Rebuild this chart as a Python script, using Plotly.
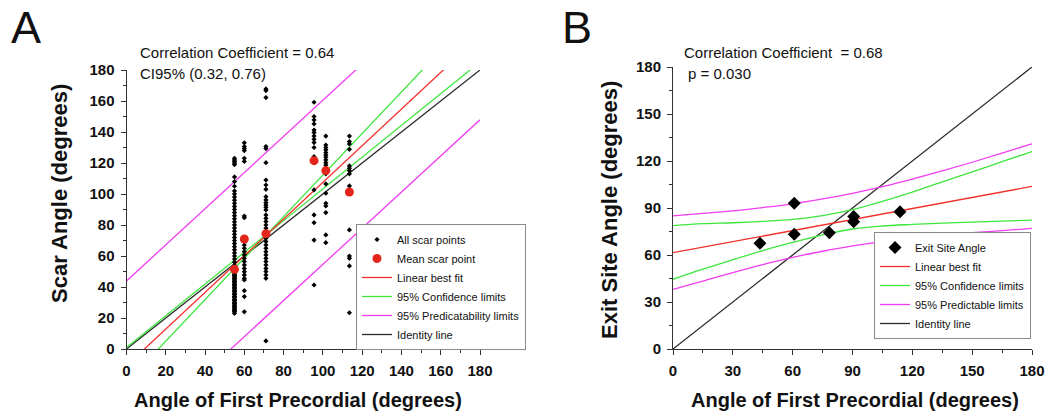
import plotly.graph_objects as go

# ---------------- Panel A data ----------------
scar_cols_x = [55, 60, 71, 95.5, 101.5, 113.5]
scar_y_55 = [123, 122, 121, 120, 119, 111, 108, 105, 102, 100, 98, 96, 94, 92, 90, 88, 86, 84,
             82, 80, 78, 76, 74, 72, 70, 68, 66, 64, 62, 60, 58, 56, 54, 52, 50, 48, 47, 46, 45,
             44, 43, 42, 41, 40, 39, 38, 37, 36, 35, 34, 33, 32, 31, 30, 29, 28, 27, 26, 25, 24, 23,
             53, 51, 49, 47.5, 45.5, 43.5, 41.5, 39.5, 37.5, 35.5, 33.5, 31.5, 29.5, 27.5, 25.5, 24.5]
scar_y_60 = [133, 130.6, 129.3, 128, 123, 121, 85.8, 84.7, 71.4, 69.3, 67.1, 65, 62.8, 60.7, 58.5,
             56.4, 54.2, 52, 49.9, 47.8, 45.6, 44.5, 37.6, 33.8, 24]
scar_y_71 = [167.8, 166.7, 162.2, 130.6, 129.3, 120.2, 109, 105.8, 103, 98.3, 96.2, 94.4, 92.9, 91.4,
             89.7, 86.5, 84.3, 82.2, 80, 77.9, 75.7, 73.6, 71.4, 69.3, 67.1, 65, 62.8, 60.7, 58.5,
             56.4, 54.2, 52, 50, 47.8, 45.6, 5.2]
scar_y_95 = [159.2, 150, 147.8, 145.2, 141.3, 139.6, 137.4, 135.3, 133.2, 130, 124.1, 122, 102.6,
             86.5, 81.5, 70.3, 41.3]
scar_y_101 = [137.4, 131.6, 130, 128.5, 126.7, 125.2, 123.7, 122, 120.2, 118.7, 116.6, 115, 113,
              106.5, 100.5, 94, 92.3, 88, 73.6, 68.6]
scar_y_113 = [137.4, 133.8, 132.3, 128.8, 118.1, 116.6, 115, 113, 105.2, 76.8, 60, 58.5, 53.6, 23.4]

mean_x = [55, 60, 71, 95.5, 101.5, 113.5]
mean_y = [51.4, 71.0, 74.4, 121.5, 115.1, 101.3]

line_a_x = [0, 180]
fit_a_y = [-10.8, 202.1]
conf_a1_y = [-21.7, 219.4]
conf_a2_y = [1.0, 185.2]
pred_a_hi_y = [43.9, 253.8]
pred_a_lo_y = [-62.0, 147.9]
ident_y = [0, 180]

# ---------------- Panel B data ----------------
exit_x = [43.6, 60.8, 60.8, 78.4, 90.6, 90.6, 113.8]
exit_y = [67.5, 93.0, 73.2, 74.2, 84.6, 81.2, 87.6]

fit_b_x = [0, 180]
fit_b_y = [61.5, 103.8]
band_x = [0, 15, 30, 45, 60, 75, 90, 105, 120, 135, 150, 165, 180]
conf_b_up = [78.7, 80.0, 80.6, 81.5, 82.8, 85.2, 89.0, 94.3, 100.2, 106.6, 113.0, 119.6, 126.0]
conf_b_lo = [44.5, 51.0, 57.0, 62.8, 68.0, 72.8, 76.6, 78.5, 79.5, 80.3, 81.0, 81.6, 82.2]
pred_b_up = [85.0, 86.6, 88.2, 90.3, 92.7, 95.8, 99.4, 103.6, 108.4, 113.7, 119.2, 125.0, 131.0]
pred_b_lo = [38.0, 43.4, 48.8, 53.9, 58.5, 62.4, 65.8, 68.6, 70.8, 72.7, 74.2, 75.6, 77.0]

# ---------------- styling ----------------
FONT = "Liberation Sans, Arial, Helvetica, sans-serif"
RED = "#f2302a"
GREEN = "#3de63d"
MAGENTA = "#f03cf0"
BLACK = "#2a2a2a"
LW = 1.3

scar_cols_y = [scar_y_55, scar_y_60, scar_y_71, scar_y_95, scar_y_101, scar_y_113]
scar_x, scar_y = [], []
for cx, ys in zip(scar_cols_x, scar_cols_y):
    scar_x += [cx] * len(ys)
    scar_y += ys

fig = go.Figure()

def aline(y, color, name, group, show, rank, legend="legend", xa="x", ya="y", x=line_a_x, shape="linear"):
    fig.add_trace(go.Scatter(x=x, y=y, mode="lines", line=dict(color=color, width=LW, shape=shape),
                             name=name, legendgroup=group + legend, showlegend=show,
                             legendrank=rank, legend=legend, xaxis=xa, yaxis=ya,
                             hoverinfo="skip"))

# ---- Panel A ----
aline(ident_y, BLACK, "Identity line", "id", True, 6)
aline(pred_a_hi_y, MAGENTA, "95% Predicatability limits", "pred", True, 5)
aline(pred_a_lo_y, MAGENTA, "95% Predicatability limits", "pred", False, 5)
aline(conf_a1_y, GREEN, "95% Confidence limits", "conf", True, 4)
aline(conf_a2_y, GREEN, "95% Confidence limits", "conf", False, 4)
aline(fit_a_y, RED, "Linear best fit", "fit", True, 3)

fig.add_trace(go.Scatter(x=scar_x, y=scar_y, mode="markers", name="All scar points",
                         marker=dict(symbol="diamond", size=4, color="black"),
                         legendrank=1, legend="legend", xaxis="x", yaxis="y"))
fig.add_trace(go.Scatter(x=mean_x, y=mean_y, mode="markers", name="Mean scar point",
                         marker=dict(symbol="circle", size=9, color="#e3261b"),
                         legendrank=2, legend="legend", xaxis="x", yaxis="y"))

# ---- Panel B ----
aline(ident_y, BLACK, "Identity line", "id", True, 6, legend="legend2", xa="x2", ya="y2")
aline(pred_b_up, MAGENTA, "95% Predictable limits", "pred", True, 5, legend="legend2", xa="x2", ya="y2", x=band_x, shape="spline")
aline(pred_b_lo, MAGENTA, "95% Predictable limits", "pred", False, 5, legend="legend2", xa="x2", ya="y2", x=band_x, shape="spline")
aline(conf_b_up, GREEN, "95% Confidence limits", "conf", True, 4, legend="legend2", xa="x2", ya="y2", x=band_x, shape="spline")
aline(conf_b_lo, GREEN, "95% Confidence limits", "conf", False, 4, legend="legend2", xa="x2", ya="y2", x=band_x, shape="spline")
aline(fit_b_y, RED, "Linear best fit", "fit", True, 3, legend="legend2", xa="x2", ya="y2", x=fit_b_x)
fig.add_trace(go.Scatter(x=exit_x, y=exit_y, mode="markers", name="Exit Site Angle",
                         marker=dict(symbol="diamond", size=10, color="black"),
                         legendrank=1, legend="legend2", xaxis="x2", yaxis="y2"))

tickfont = dict(family=FONT, size=15, color="#111", weight="bold")

def axis(domain, dtick, minor, anchor):
    return dict(domain=domain, range=[0, 180], tick0=0, dtick=dtick, ticks="outside",
                ticklen=5, tickwidth=1, tickcolor="#333", showline=True, linecolor="#333",
                linewidth=1, showgrid=False, zeroline=False, tickfont=tickfont, anchor=anchor,
                ticklabelstandoff=3, automargin=False,
                minor=dict(dtick=minor, tick0=0, ticks="outside", ticklen=3, tickcolor="#333",
                           tickwidth=1, showgrid=False))

W, H = 1050, 417
px = lambda v: v / W
py = lambda v: (H - v) / H

fig.update_layout(
    width=W, height=H, margin=dict(l=0, r=0, t=0, b=0, pad=0), autosize=False,
    paper_bgcolor="white", plot_bgcolor="white",
    font=dict(family=FONT, color="#111"),
    xaxis=axis([px(126.5), px(480)], 20, 10, "y"),
    yaxis=axis([py(349), py(70)], 20, 10, "x"),
    xaxis2=axis([px(673), px(1032)], 30, 15, "y2"),
    yaxis2=axis([py(349), py(67)], 30, 15, "x2"),
    legend=dict(x=px(526), xanchor="right", y=py(350), yanchor="bottom",
                bordercolor="#8a8a8a", borderwidth=1, bgcolor="white",
                font=dict(family=FONT, size=11, color="#111"), tracegroupgap=0),
    legend2=dict(x=px(1031), xanchor="right", y=py(339), yanchor="bottom",
                 bordercolor="#8a8a8a", borderwidth=1, bgcolor="white",
                 font=dict(family=FONT, size=11, color="#111"), tracegroupgap=0),
    showlegend=True,
)

ann = []
def text(t, x, y, size, xanchor="left", bold=False, angle=0):
    ann.append(dict(text=t, x=px(x), y=py(y), xref="paper", yref="paper", showarrow=False,
                    xanchor=xanchor, yanchor="middle", textangle=angle,
                    font=dict(family=FONT, size=size, color="#111",
                              weight="bold" if bold else "normal")))

text("A", 26, 27, 45, "center")
text("B", 577, 27, 45, "center")
text("Correlation Coefficient = 0.64", 138, 52.5, 15)
text("CI95% (0.32, 0.76)", 138, 73, 15)
text("Correlation Coefficient\u00a0 = 0.68", 682, 52.5, 15)
text("p = 0.030", 686, 73, 15)
text("Angle of First Precordial (degrees)", 298, 400, 20, "center", True)
text("Angle of First Precordial (degrees)", 855, 400, 20, "center", True)
text("Scar Angle (degrees)", 59, 194, 22, "center", True, -90)
text("Exit Site Angle (degrees)", 609, 210, 22, "center", True, -90)
fig.update_layout(annotations=ann)

fig.write_html("out.html", config={"displayModeBar": False, "responsive": False},
               post_script="document.body.style.margin='0';document.body.style.overflow='hidden';")
